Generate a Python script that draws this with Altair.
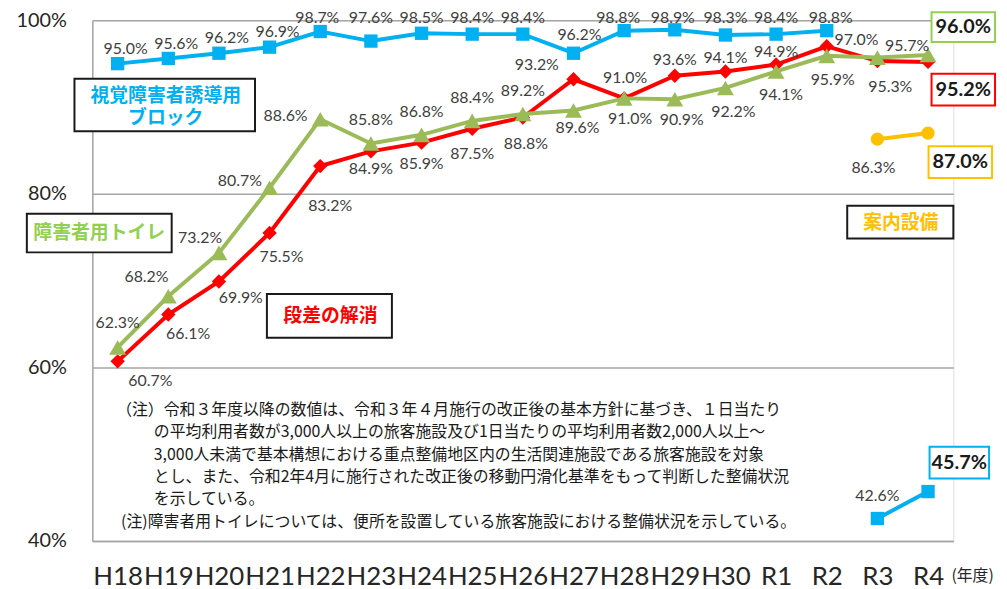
import json
import altair as alt
import pandas as pd

# ---------------- data ----------------
YEARS = ["H18", "H19", "H20", "H21", "H22", "H23", "H24", "H25", "H26",
         "H27", "H28", "H29", "H30", "R1", "R2", "R3", "R4"]
BLOCK = [95.0, 95.6, 96.2, 96.9, 98.7, 97.6, 98.5, 98.4, 98.4, 96.2,
         98.8, 98.9, 98.3, 98.4, 98.8, None, None]
BLOCK_NEW = [None] * 15 + [42.6, 45.7]
STEP = [60.7, 66.1, 69.9, 75.5, 83.2, 84.9, 85.9, 87.5, 88.8, 93.2,
        91.0, 93.6, 94.1, 94.9, 97.0, 95.3, 95.2]
TOILET = [62.3, 68.2, 73.2, 80.7, 88.6, 85.8, 86.8, 88.4, 89.2, 89.6,
          91.0, 90.9, 92.2, 94.1, 95.9, 95.7, 96.0]
GUIDE = [None] * 15 + [86.3, 87.0]

Y_TICKS = [40, 60, 80, 100]

NOTE_LINES = [
    "（注）令和３年度以降の数値は、令和３年４月施行の改正後の基本方針に基づき、１日当たり",
    "の平均利用者数が3,000人以上の旅客施設及び1日当たりの平均利用者数2,000人以上～",
    "3,000人未満で基本構想における重点整備地区内の生活関連施設である旅客施設を対象",
    "とし、また、令和2年4月に施行された改正後の移動円滑化基準をもって判断した整備状況",
    "を示している。",
    "(注)障害者用トイレについては、便所を設置している旅客施設における整備状況を示している。",
]

# ---------------- style ----------------
W, H = 868, 525
PX_X = W / len(YEARS)
PX_Y = H / (Y_TICKS[-1] - Y_TICKS[0])

C_BLUE, C_RED, C_GREEN, C_ORANGE = "#00b0f0", "#ff0000", "#9bbb59", "#ffc000"
LBL_COLOR = "#404040"
NUM_FONT = "Lato"
JP_FONT = "Noto Sans CJK JP"

# label offsets in pixels (dx, dy) per point; None = no inline label
BLOCK_OFF = [(8, -15)] * 4 + [(-3, -14), (0, -23.5), (0, -15.5), (0, -16.5), (0, -16.5),
                              (6, -18), (-6, -13), (-2, -12), (0, -17.5), (0, -16.5), (4, -13),
                              None, None]
BLOCK_NEW_OFF = [None] * 15 + [(0, -23), None]
STEP_OFF = [(33, 20), (20, 20), (22, 17), (12, 24), (10, 40), (0, 18), (0, 22), (0, 25),
            (3, 27), (-37, -14), (1, -20), (0, -16), (0, -14), (0, -13), (30, -6),
            (13, 26), None]
TOILET_OFF = [(0, -25), (-22, -19), (-19, -15), (-30, -7), (-35, -3), (0, -24), (0, -23),
              (0, -23), (0, -23), (4, 18), (6, 21), (7, 21), (8, 24), (5, 24), (6, 24),
              (30, -12), None]
GUIDE_OFF = [None] * 15 + [(-4, 29), None]

XS = alt.Scale(domain=[-0.5, len(YEARS) - 0.5], nice=False, zero=False)
YS = alt.Scale(domain=[Y_TICKS[0], Y_TICKS[-1]], nice=False, zero=False)

AX_X = alt.Axis(values=list(range(len(YEARS))), labelExpr=f"{json.dumps(YEARS)}[datum.value]",
                grid=False, ticks=False, domain=True, domainColor="#a6a6a6", domainWidth=1.5,
                labelFont=NUM_FONT, labelFontSize=26, labelColor="#262626", labelPadding=23,
                labelOverlap=False, labelFlush=False, labelBound=False, title=None)
AX_Y = alt.Axis(values=Y_TICKS, labelExpr="datum.value + '%'", grid=True, gridColor="#a6a6a6",
                gridWidth=1.5, ticks=False, domain=True, domainColor="#a6a6a6", domainWidth=1.5,
                labelFont=NUM_FONT, labelFontSize=20, labelColor="#262626", labelPadding=26,
                labelFlush=False, title=None)


def pts(values):
    return pd.DataFrame([{"i": i, "v": v} for i, v in enumerate(values) if v is not None])


def lbls(values, offs):
    rows = []
    for i, (v, o) in enumerate(zip(values, offs)):
        if v is None or o is None:
            continue
        rows.append({"lx": i + o[0] / PX_X, "ly": v - o[1] / PX_Y, "t": f"{v:.1f}%"})
    return pd.DataFrame(rows)


def enc(chart, xf="i", yf="v"):
    return chart.encode(x=alt.X(f"{xf}:Q", scale=XS, axis=AX_X),
                        y=alt.Y(f"{yf}:Q", scale=YS, axis=AX_Y))


def series(values, color, shape, size):
    df = pts(values)
    line = enc(alt.Chart(df).mark_line(color=color, strokeWidth=4))
    mk = enc(alt.Chart(df).mark_point(shape=shape, filled=True, size=size, color=color, opacity=1))
    return [line, mk]


def label_layer(values, offs):
    df = lbls(values, offs)
    return enc(alt.Chart(df).mark_text(font=NUM_FONT, fontSize=16, color=LBL_COLOR,
                                       align="center", baseline="middle"),
               xf="lx", yf="ly").encode(text="t:N")


layers = []
layers += series(BLOCK, C_BLUE, "square", 180)
layers += series(BLOCK_NEW, C_BLUE, "square", 180)
layers += series(STEP, C_RED, "diamond", 210)
layers += series(TOILET, C_GREEN, "triangle-up", 290)
layers += series(GUIDE, C_ORANGE, "circle", 177)

for vals, offs in [(BLOCK, BLOCK_OFF), (BLOCK_NEW, BLOCK_NEW_OFF), (STEP, STEP_OFF),
                   (TOILET, TOILET_OFF), (GUIDE, GUIDE_OFF)]:
    layers.append(label_layer(vals, offs))

# ---------------- annotation boxes (pixel positions) ----------------
END_BOXES = pd.DataFrame([
    {"x0": 846, "x1": 910, "y0": -8, "y1": 22, "c": "#92d050", "t": f"{TOILET[-1]:.1f}%"},
    {"x0": 846, "x1": 910, "y0": 54, "y1": 86, "c": C_RED, "t": f"{STEP[-1]:.1f}%"},
    {"x0": 843, "x1": 907, "y0": 127, "y1": 159, "c": C_ORANGE, "t": f"{GUIDE[-1]:.1f}%"},
    {"x0": 844, "x1": 904, "y0": 430, "y1": 462, "c": C_BLUE, "t": f"{BLOCK_NEW[-1]:.1f}%"},
])
END_BOXES["cx"] = (END_BOXES.x0 + END_BOXES.x1) / 2
END_BOXES["cy"] = (END_BOXES.y0 + END_BOXES.y1) / 2

NAME_BOXES = pd.DataFrame([
    {"x0": -18, "x1": 164, "y0": 59, "y1": 112},
    {"x0": -66, "x1": 80, "y0": 195, "y1": 234},
    {"x0": 176, "x1": 302, "y0": 276, "y1": 320},
    {"x0": 761, "x1": 868, "y0": 187, "y1": 220},
])
NAME_TEXTS = pd.DataFrame([
    {"cx": 74, "cy": 76, "c": C_BLUE, "t": "視覚障害者誘導用\nブロック"},
    {"cx": 7, "cy": 215, "c": "#92d050", "t": "障害者用トイレ"},
    {"cx": 240, "cy": 298, "c": C_RED, "t": "段差の解消"},
    {"cx": 815, "cy": 204, "c": C_ORANGE, "t": "案内設備"},
])

NOTE_X = [24, 62, 62, 62, 62, 29]
NOTE_Y = [393, 415.5, 438, 460.5, 483, 505.5]
NOTES = pd.DataFrame({"px": NOTE_X, "py": NOTE_Y, "t": NOTE_LINES})


def px(field):
    return alt.X(f"{field}:Q", scale=None, axis=None)


def py(field):
    return alt.Y(f"{field}:Q", scale=None, axis=None)


layers.append(alt.Chart(END_BOXES).mark_rect(fill="white", strokeWidth=2).encode(
    x=px("x0"), x2="x1:Q", y=py("y0"), y2="y1:Q", stroke=alt.Stroke("c:N", scale=None)))
layers.append(alt.Chart(END_BOXES).mark_text(font=NUM_FONT, fontSize=20, fontWeight="bold",
                                             color="#1a1a1a", align="center", baseline="middle").encode(
    x=px("cx"), y=py("cy"), text="t:N"))
layers.append(alt.Chart(NAME_BOXES).mark_rect(fill="white", stroke="#1a1a1a", strokeWidth=2).encode(
    x=px("x0"), x2="x1:Q", y=py("y0"), y2="y1:Q"))
layers.append(alt.Chart(NAME_TEXTS).mark_text(font=JP_FONT, fontSize=19, fontWeight="bold",
                                              align="center", baseline="middle", lineBreak="\n",
                                              lineHeight=23).encode(
    x=px("cx"), y=py("cy"), text="t:N", color=alt.Color("c:N", scale=None)))
layers.append(alt.Chart(NOTES).mark_text(font=JP_FONT, fontSize=16, color="#1a1a1a",
                                         align="left", baseline="middle").encode(
    x=px("px"), y=py("py"), text="t:N"))
layers.append(alt.Chart(pd.DataFrame({"t": ["(年度)"]})).mark_text(
    font=JP_FONT, fontSize=16, color="#262626", align="left", baseline="middle").encode(
    x=alt.value(866), y=alt.value(560), text="t:N"))

chart = alt.layer(*layers).properties(
    width=W, height=H,
    padding={"left": 85, "top": 10, "right": 46, "bottom": 46},
    autosize=alt.AutoSizeParams(type="none"),
).configure_view(stroke=None).configure(background="white")

chart.save("out.html", embed_options={"renderer": "svg", "actions": False})
